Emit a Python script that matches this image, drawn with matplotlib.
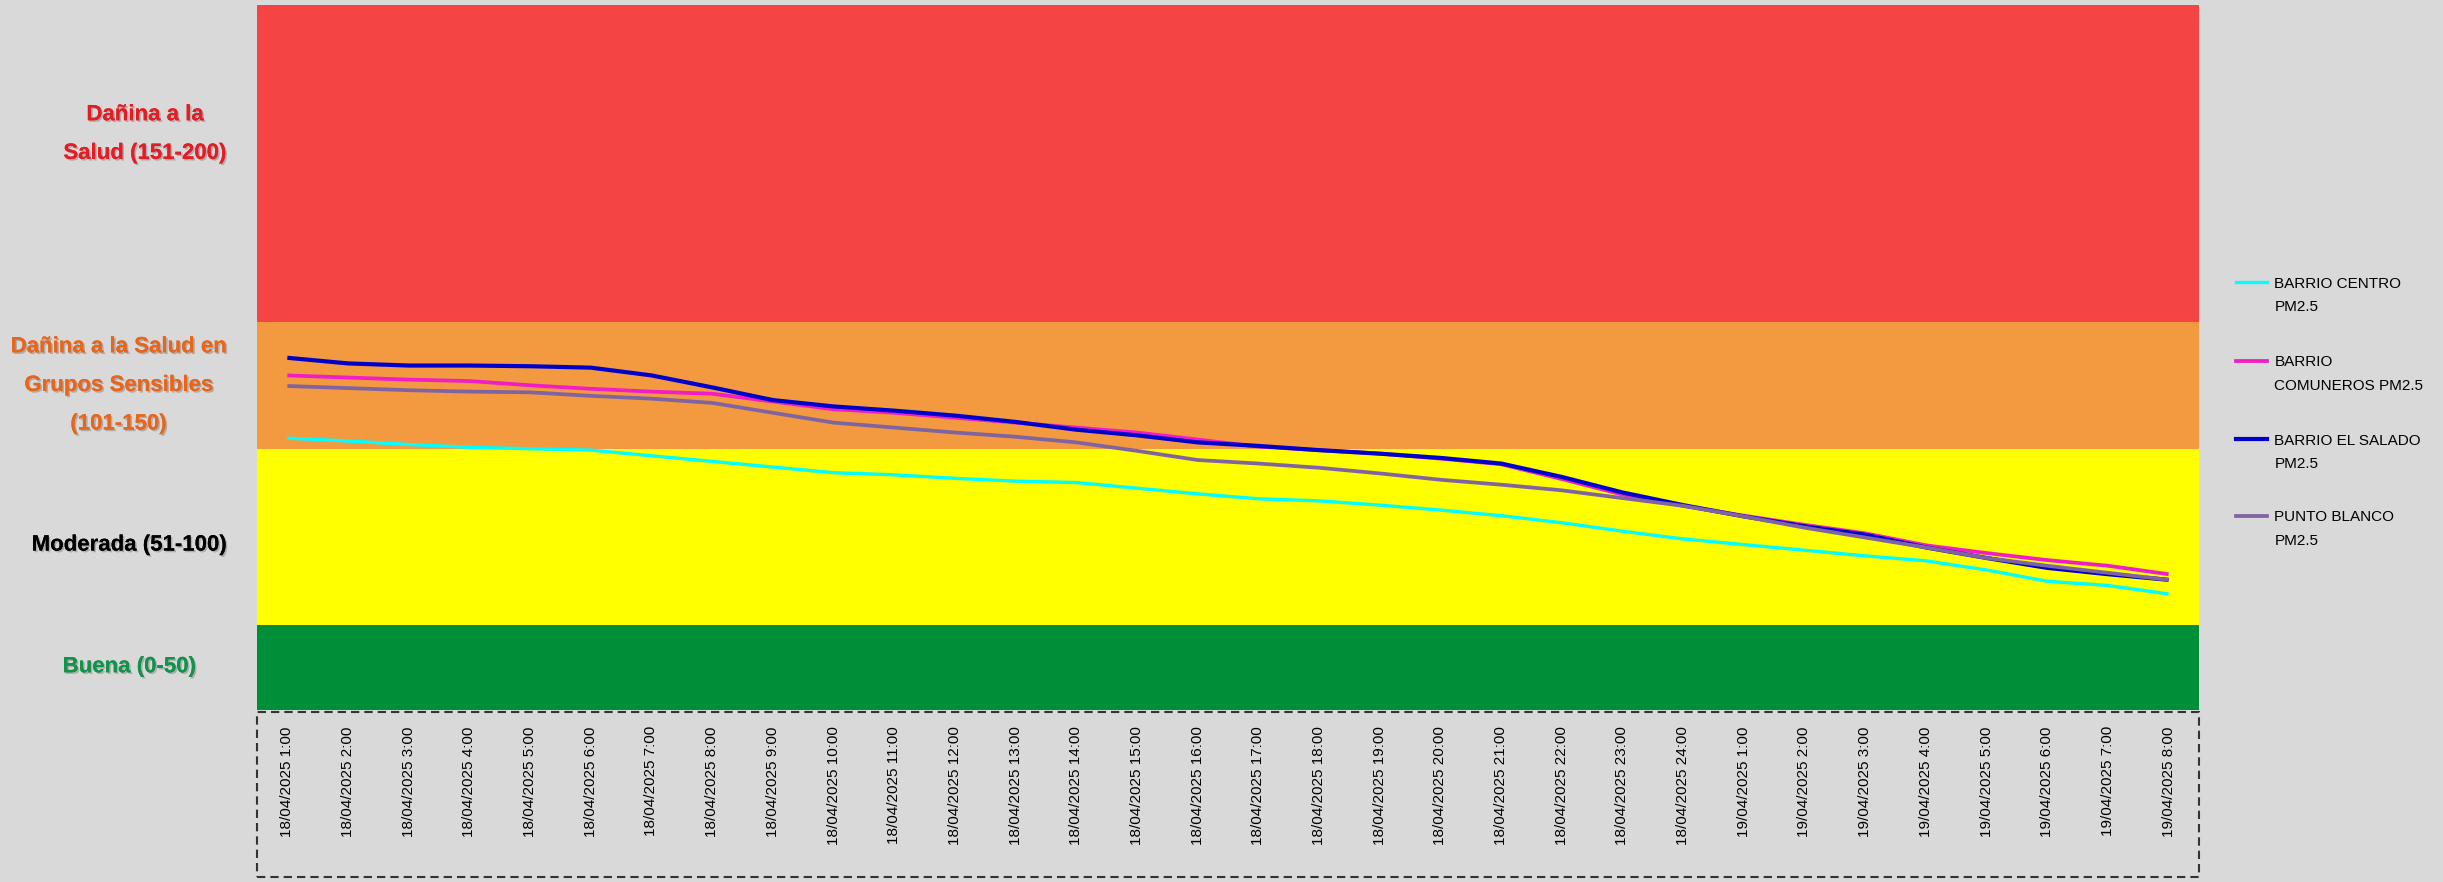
import matplotlib.pyplot as plt
import matplotlib.patheffects as pe
from matplotlib.lines import Line2D
from matplotlib.patches import Rectangle

# Datos PM2.5 (ug/m3) por hora
horas = [f"18/04/2025 {h}:00" for h in range(1, 25)] + [f"19/04/2025 {h}:00" for h in range(1, 9)]

barrio_centro = [38.5, 38.1, 37.6, 37.2, 37.0, 36.8, 36.0, 35.2, 34.4, 33.6, 33.3, 32.8,
                 32.4, 32.2, 31.4, 30.6, 29.9, 29.6, 29.0, 28.3, 27.5, 26.5, 25.3, 24.2,
                 23.4, 22.6, 21.8, 21.1, 19.8, 18.2, 17.6, 16.4]
barrio_comuneros = [47.4, 47.1, 46.8, 46.6, 46.0, 45.5, 45.1, 44.8, 43.7, 42.6, 42.1, 41.4,
                    40.7, 40.0, 39.3, 38.3, 37.3, 36.8, 36.3, 35.6, 34.8, 32.7, 30.5, 28.9,
                    27.5, 26.2, 25.0, 23.3, 22.2, 21.2, 20.4, 19.2]
barrio_el_salado = [49.9, 49.1, 48.8, 48.8, 48.7, 48.5, 47.4, 45.7, 43.9, 43.0, 42.4, 41.7,
                    40.8, 39.7, 38.9, 37.9, 37.4, 36.8, 36.3, 35.7, 34.9, 33.0, 30.8, 29.0,
                    27.4, 26.0, 24.8, 23.0, 21.5, 20.1, 19.2, 18.4]
punto_blanco = [45.9, 45.6, 45.3, 45.1, 45.0, 44.5, 44.1, 43.5, 42.1, 40.7, 40.0, 39.3,
                38.7, 37.9, 36.7, 35.4, 34.9, 34.3, 33.5, 32.6, 31.9, 31.1, 30.0, 28.9,
                27.4, 25.8, 24.4, 23.0, 21.5, 20.4, 19.4, 18.4]

series = [
    ("BARRIO CENTRO\nPM2.5", barrio_centro, "#00FFFF", 2.4),
    ("BARRIO\nCOMUNEROS PM2.5", barrio_comuneros, "#F01DC8", 2.7),
    ("BARRIO EL SALADO\nPM2.5", barrio_el_salado, "#0000CC", 3.0),
    ("PUNTO BLANCO\nPM2.5", punto_blanco, "#8064A2", 2.7),
]

# Bandas de calidad del aire
limites = [0, 12, 37, 55, 100]
colores_banda = ["#008F39", "#FFFF00", "#F39A40", "#F44444"]

etiquetas_banda = [
    ("Dañina a la\nSalud (151-200)", "#E51C23", 0.0593, 0.848),
    ("Dañina a la Salud en\nGrupos Sensibles\n(101-150)", "#E8661C", 0.0485, 0.563),
    ("Moderada (51-100)", "#000000", 0.0529, 0.382),
    ("Buena (0-50)", "#12924A", 0.0529, 0.244),
]

fig = plt.figure(figsize=(24.43, 8.82), dpi=100, facecolor="#D9D9D9")
ax = fig.add_axes([0.1052, 0.1955, 0.7949, 0.7993])

for i in range(len(colores_banda)):
    ax.axhspan(limites[i], limites[i + 1], color=colores_banda[i], lw=0, zorder=0)

x = list(range(len(horas)))
for nombre, vals, color, lw in series:
    ax.plot(x, vals, color=color, lw=lw, solid_capstyle="butt", zorder=3)

ax.set_xlim(-0.5, len(horas) - 0.5)
ax.set_ylim(0, 100)
ax.set_yticks([])
ax.set_xticks(x)
ax.set_xticklabels(horas, rotation=90, fontsize=11, family=["Liberation Sans", "DejaVu Sans"])
ax.tick_params(axis="x", length=0, pad=12)
for s in ax.spines.values():
    s.set_visible(False)

# Recuadro punteado de las etiquetas del eje
fig.patches.append(Rectangle((0.1052, 0.006), 0.7949, 0.187, transform=fig.transFigure,
                             fill=False, ls=(0, (4, 2.4)), lw=1.5, ec="#333333"))

# Etiquetas de las bandas
sombra = [pe.withSimplePatchShadow(offset=(1.2, -1.2), shadow_rgbFace="#000000", alpha=0.2), pe.Normal()]
for texto, color, xf, yf in etiquetas_banda:
    fig.text(xf, yf, texto, color=color, fontsize=16, fontweight="bold", ha="center", va="center",
             linespacing=2.1, family=["Liberation Sans", "DejaVu Sans"], path_effects=sombra)

# Leyenda
ley_y = [0.680, 0.591, 0.502, 0.415]
for (nombre, vals, color, lw), yf in zip(series, ley_y):
    fig.add_artist(Line2D([0.9153, 0.9280], [yf, yf], color=color, lw=lw, transform=fig.transFigure))
    fig.text(0.9310, yf + 0.0065, nombre, fontsize=11, va="top", ha="left", linespacing=1.9,
             family=["Liberation Sans", "DejaVu Sans"], color="#000000")

fig.savefig("out.png", dpi=100, facecolor=fig.get_facecolor())
